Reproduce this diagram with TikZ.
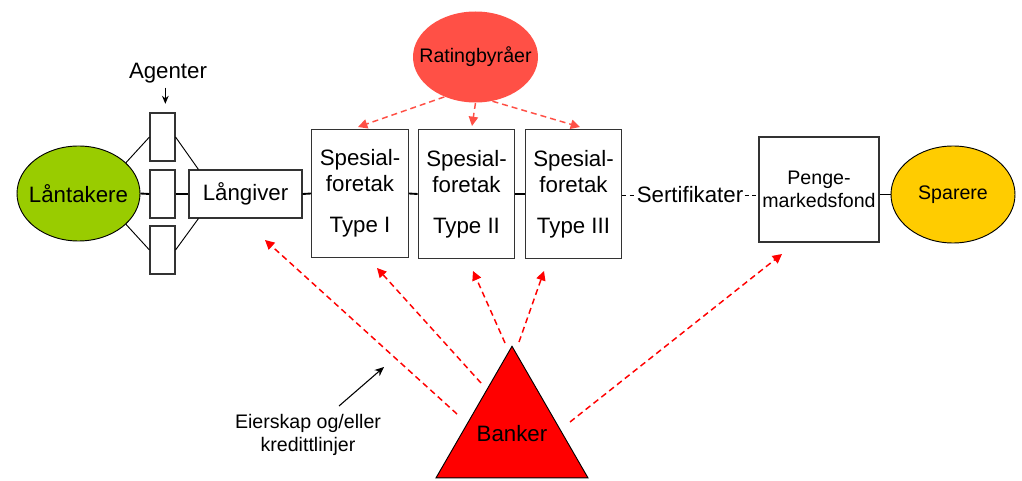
\documentclass[tikz,border=0pt]{standalone}
\usepackage{fontspec}
\setmainfont{Liberation Sans}
\usetikzlibrary{arrows.meta,shapes.geometric}
\definecolor{lantgreen}{HTML}{99CC00}
\definecolor{spareryellow}{HTML}{FFCC00}
\definecolor{ratingred}{HTML}{FF5046}
\definecolor{bankred}{HTML}{FF0000}
\newcommand{\bigtxt}{\fontsize{16.7}{19.5}\selectfont}
\newcommand{\smalltxt}{\fontsize{14.7}{17.3}\selectfont}

\tikzset{
  box/.style={draw=black!80, line width=0.8pt, inner sep=0pt, align=center},
  blob/.style={ellipse, draw=black, line width=0.7pt, inner ysep=0pt, inner xsep=-14pt},
  spvbox/.style={box, font=\bigtxt, minimum width=72.5pt, minimum height=96.5pt},
  agentbox/.style={box, minimum width=18.75pt, minimum height=36pt},
  link/.style={line width=1.4pt},
  thin link/.style={line width=0.7pt},
  ratingarrow/.style={draw=ratingred, line width=1.1pt, dash pattern=on 4.5pt off 3pt, -{Triangle[length=7pt,width=7pt]}},
  bankarrow/.style={draw=bankred, line width=1.1pt, dash pattern=on 4.5pt off 3pt, -{Triangle[length=7pt,width=7pt]}},
}

\begin{document}
\begin{tikzpicture}[x=7.5pt, y=-7.5pt]
    \useasboundingbox (0,0) rectangle (102.2,48.1);

    % nodes
    \node[blob, fill=lantgreen, font=\bigtxt, minimum width=92.25pt, minimum height=71.25pt] (lant) at (7.85,19.35) {Låntakere};
    \node[agentbox] (agent1) at (16.25,13.7) {};
    \node[agentbox] (agent2) at (16.25,19.4) {};
    \node[agentbox] (agent3) at (16.25,25.0) {};
    \node[font=\bigtxt] (agenter) at (16.8,7.3) {Agenter};
    \node[box, font=\bigtxt, minimum width=84.75pt, minimum height=36pt] (lang) at (24.55,19.4) {Långiver};
    \node[spvbox] (spv1) at (36.0,19.35) {Spesial-\\foretak\\[11pt]Type I};
    \node[spvbox] (spv2) at (46.65,19.4) {Spesial-\\foretak\\[11pt]Type II};
    \node[spvbox] (spv3) at (57.35,19.4) {Spesial-\\foretak\\[11pt]Type III};
    \node[blob, draw=none, fill=ratingred, font=\smalltxt, minimum width=93.75pt, minimum height=68.25pt] (rating) at (47.55,5.7) {Ratingbyråer};
    \node[inner sep=1pt, font=\bigtxt] (sert) at (69.0,19.5) {Sertifikater};
    \node[box, font=\smalltxt, minimum width=90pt, minimum height=78.75pt] (penge) at (81.9,18.95) {Penge-\\markedsfond};
    \node[blob, fill=spareryellow, font=\smalltxt, minimum width=93pt, minimum height=72.75pt] (sparere) at (95.3,19.45) {Sparere};
    \node[regular polygon, regular polygon sides=3, draw=black, line width=0.7pt, fill=bankred, minimum size=131.6pt, inner sep=0pt] (banker) at (51.2,43.4) {\makebox[0pt]{\bigtxt Banker}};
    \node[align=center, font=\smalltxt] (eier) at (30.8,43.5) {Eierskap og/eller\\kredittlinjer};

    % free ends
    \coordinate (r1) at (35.8,12.7);
    \coordinate (r2) at (47.2,12.6);
    \coordinate (r3) at (58.0,12.7);
    \coordinate (b1s) at (45.7,41.4);
    \coordinate (b1e) at (26.5,24.0);
    \coordinate (b2s) at (48.1,38.3);
    \coordinate (b2e) at (37.7,26.8);
    \coordinate (b3s) at (50.5,34.3);
    \coordinate (b3e) at (47.3,27.1);
    \coordinate (b4s) at (51.9,34.2);
    \coordinate (b4e) at (54.4,27.1);
    \coordinate (b5s) at (57.0,42.2);
    \coordinate (b5e) at (78.2,25.4);
    \coordinate (e1) at (33.9,40.6);
    \coordinate (e2) at (38.4,36.7);

    % edges
    \draw[thin link] (lant.33) -- (agent1.west); % Låntakere -> agent 1
    \draw[thin link] (lant.-33) -- (agent3.west); % Låntakere -> agent 3
    \draw[thin link] (agent1.east) -- ([xshift=7.5pt]lang.north west);
    \draw[thin link] (agent3.east) -- ([xshift=7.5pt]lang.south west);
    \draw[link] (lant.east) -- (agent2.west);
    \draw[link] (agent2.east) -- (lang.west);
    \draw[link] (lang.east) -- (spv1.west);
    \draw[link] (spv1.east) -- (spv2.west);
    \draw[link] (spv2.east) -- (spv3.west);
    \draw[thin link, dash pattern=on 3pt off 2.5pt] (spv3.east |- sert.west) -- (sert.west);
    \draw[thin link, dash pattern=on 3pt off 2.5pt] (sert.east) -- (sert.east -| penge.west);
    \draw[link] (sparere.west -| penge.east) -- (sparere.west);
    \draw[-{Stealth[length=6pt,width=5pt]}, line width=0.8pt, shorten >=6.5pt] ([xshift=-2pt]agenter.south) -- ([xshift=-2pt]agenter.south |- agent1.north); % Agenter

    % rating arrows
    \draw[ratingarrow] (rating.232) -- (r1);
    \draw[ratingarrow] (rating.south) -- (r2);
    \draw[ratingarrow] (rating.-69) -- (r3);

    % bank arrows
    \draw[bankarrow] (b1s) -- (b1e);
    \draw[bankarrow] (b2s) -- (b2e);
    \draw[bankarrow] (b3s) -- (b3e);
    \draw[bankarrow] (b4s) -- (b4e);
    \draw[bankarrow] (b5s) -- (b5e);
    \draw[-{Stealth[length=7pt,width=6pt]}, line width=0.8pt] (e1) -- (e2); % Eierskap

\end{tikzpicture}
\end{document}
